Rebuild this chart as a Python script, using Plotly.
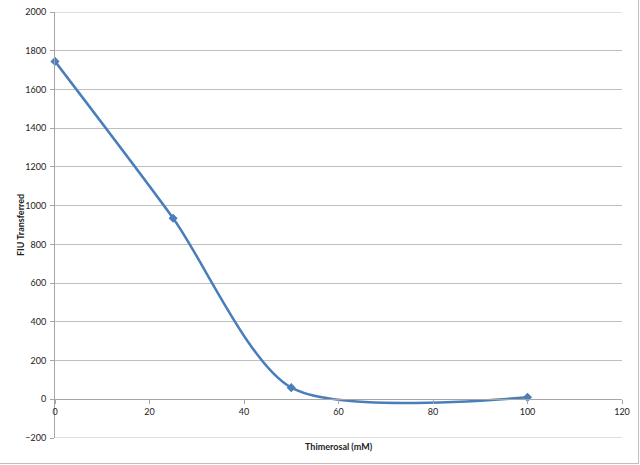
import plotly.graph_objects as go

thimerosal = [0, 25, 50, 100]
fiu = [1745, 935, 60, 10]
x_ticks = [0, 20, 40, 60, 80, 100, 120]
y_ticks = [-200, 0, 200, 400, 600, 800, 1000, 1200, 1400, 1600, 1800, 2000]

W, H = 640, 465
L, R, T, B = 55, 18, 12, 27
pw, ph = W - L - R, H - T - B

def px_x(p):
    return (p - L) / pw

def px_y(p):
    return (H - B - p) / ph

fig = go.Figure()
fig.add_trace(go.Scatter(
    x=thimerosal, y=fiu, mode="lines+markers",
    line=dict(color="#4A7EBB", width=2.5, shape="spline", smoothing=0.75),
    marker=dict(symbol="diamond", size=7, color="#4A7EBB"),
    showlegend=False, cliponaxis=False,
))

font = dict(family="Lato, Liberation Sans, sans-serif", size=9, color="#222222")
fig.update_layout(
    width=W, height=H,
    margin=dict(l=L, r=R, t=T, b=B, autoexpand=False),
    paper_bgcolor="white", plot_bgcolor="white",
    font=font,
    xaxis=dict(
        range=[0, 120], tickvals=x_ticks, showgrid=False, zeroline=False,
        showline=True, linecolor="#A6A6A6", linewidth=1,
        ticks="outside", ticklen=4, tickcolor="#A6A6A6",
        anchor="free", position=200 / 2200, automargin=False,
        tickfont=font, ticklabeloverflow="allow",
    ),
    yaxis=dict(
        range=[-200, 2000], tickvals=y_ticks, showgrid=True,
        gridcolor="#BFBFBF", gridwidth=1, zeroline=False,
        showline=True, linecolor="#A6A6A6", linewidth=1,
        ticks="outside", ticklen=4, tickcolor="#A6A6A6",
        tickfont=font, ticklabelstandoff=2, automargin=False,
        ticklabeloverflow="allow",
    ),
    annotations=[
        dict(text="<b>Thimerosal (mM)</b>", xref="paper", yref="paper",
             x=0.5, y=px_y(446), xanchor="center", yanchor="middle",
             showarrow=False, font=dict(family="Lato, Liberation Sans, sans-serif", size=9, color="#222222")),
        dict(text="<b>FIU Transferred</b>", xref="paper", yref="paper",
             x=px_x(20), y=0.5, xanchor="center", yanchor="middle", textangle=-90,
             showarrow=False, font=dict(family="Lato, Liberation Sans, sans-serif", size=9, color="#222222")),
    ],
    shapes=[
        dict(type="line", xref="paper", yref="y", x0=0, x1=1, y0=-200, y1=-200,
             line=dict(color="#BFBFBF", width=1), layer="below"),
        dict(type="line", xref="paper", yref="y", x0=0, x1=1, y0=2000, y1=2000,
             line=dict(color="#BFBFBF", width=1), layer="below"),
        dict(type="line", xref="paper", yref="paper", x0=px_x(-2), x1=px_x(638.5),
             y0=px_y(463.5), y1=px_y(463.5), line=dict(color="#BFBFBF", width=1)),
        dict(type="line", xref="paper", yref="paper", x0=px_x(638.5), x1=px_x(638.5),
             y0=px_y(-2), y1=px_y(463.5), line=dict(color="#BFBFBF", width=1)),
    ],
)

fig.write_html("out.html", config={"displayModeBar": False},
               post_script="document.body.style.margin='0';")
